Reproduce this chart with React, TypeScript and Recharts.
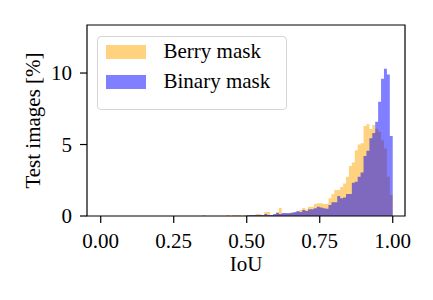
import { ComposedChart, Area, XAxis, YAxis, ReferenceArea } from "recharts";

// histogram bins: 0.01 wide, listed from 0.30 up to 0.99
const FIRST_BIN = 0.3;
const BIN_WIDTH = 0.01;

// % of test images per IoU bin
const berryMask = [
  0, 0, 0, 0, 0, 0.07, 0, 0, 0, 0,
  0, 0, 0, 0.07, 0, 0.07, 0.07, 0.07, 0, 0.07,
  0, 0.07, 0.07, 0.14, 0.14, 0.07, 0.28, 0.28, 0.07, 0.07,
  0.28, 0.56, 0.14, 0.14, 0.14, 0.28, 0.21, 0.28, 0.42, 0.56,
  0.45, 0.65, 0.65, 0.84, 0.89, 0.89, 0.84, 0.84, 1.24, 1.54,
  1.82, 1.82, 2.03, 2.28, 2.75, 3.5, 3.75, 4.6, 5.0, 5.08,
  6.3, 6.41, 6.08, 6.36, 6.1, 5.9, 5.3, 4.73, 2.75, 1.47,
];
const binaryMask = [
  0, 0, 0, 0, 0, 0, 0, 0, 0, 0,
  0, 0, 0, 0, 0, 0, 0, 0, 0, 0,
  0.07, 0.07, 0.07, 0.07, 0.07, 0.07, 0.14, 0.07, 0.07, 0.14,
  0.21, 0.14, 0.21, 0.21, 0.21, 0.21, 0.28, 0.35, 0.28, 0.42,
  0.35, 0.47, 0.47, 0.54, 0.65, 0.6, 0.54, 0.5, 0.77, 0.96,
  0.96, 1.4, 1.24, 1.3, 1.54, 1.54, 2.33, 2.4, 2.75, 3.05,
  4.2, 4.57, 5.43, 5.8, 6.6, 8.0, 9.6, 10.3, 9.9, 5.6,
];

const X_TICKS = [0, 0.25, 0.5, 0.75, 1];
const Y_TICKS = [0, 5, 10];
const X_DOMAIN = [-0.047, 1.042];
const Y_DOMAIN = [0, 13.36];

const SERIES = [
  { key: "berry", name: "Berry mask", color: "#ffa500" },
  { key: "binary", name: "Binary mask", color: "#0000ff" },
];

const FONT = "'Liberation Serif', 'Times New Roman', serif";
const FONT_SIZE = 21;

// step areas need the right edge of the last bin as an extra point
const rows = berryMask.map((b, i) => ({
  x: +(FIRST_BIN + i * BIN_WIDTH).toFixed(2),
  berry: b,
  binary: binaryMask[i],
}));
rows.push({
  x: +(FIRST_BIN + berryMask.length * BIN_WIDTH).toFixed(2),
  berry: berryMask[berryMask.length - 1],
  binary: binaryMask[binaryMask.length - 1],
});

const tickStyle = { fill: "#000", fontFamily: FONT, fontSize: FONT_SIZE };

const XLabel = ({ viewBox }: any) => (
  <text
    x={viewBox.x + viewBox.width / 2}
    y={viewBox.y + 55}
    textAnchor="middle"
    fontFamily={FONT}
    fontSize={FONT_SIZE}
    fill="#000"
  >
    IoU
  </text>
);

const YLabel = ({ viewBox }: any) => {
  const cx = 40;
  const cy = viewBox.y + viewBox.height / 2;
  return (
    <text
      x={cx}
      y={cy}
      transform={`rotate(-90 ${cx} ${cy})`}
      textAnchor="middle"
      fontFamily={FONT}
      fontSize={FONT_SIZE}
      fill="#000"
    >
      Test images [%]
    </text>
  );
};

const LegendBox = () => (
  <div
    style={{
      position: "absolute",
      left: 97,
      top: 36,
      width: 190,
      height: 74,
      boxSizing: "border-box",
      border: "1.5px solid #d5d5d5",
      borderRadius: 4,
      background: "rgba(255,255,255,0.8)",
      fontFamily: FONT,
      fontSize: FONT_SIZE,
    }}
  >
    {SERIES.map((s, i) => (
      <div
        key={s.key}
        style={{
          position: "absolute",
          left: 7.5,
          top: 7.5 + i * 30,
          height: 14,
          display: "flex",
          alignItems: "center",
          lineHeight: 1,
          whiteSpace: "nowrap",
        }}
      >
        <span
          style={{
            width: 40,
            height: 14,
            background: s.color,
            opacity: 0.5,
            marginRight: 18,
          }}
        />
        <span>{s.name}</span>
      </div>
    ))}
  </div>
);

export default function App() {
  return (
    <div style={{ position: "absolute", left: 0, top: 0, width: 433, height: 300, background: "#fff" }}>
      <ComposedChart
        width={433}
        height={300}
        data={rows}
        margin={{ top: 25, right: 28, bottom: 0, left: 0 }}
      >
        <XAxis
          dataKey="x"
          type="number"
          domain={X_DOMAIN}
          ticks={X_TICKS}
          allowDataOverflow
          height={84}
          axisLine={false}
          tickLine={{ stroke: "#000", strokeWidth: 1.2 }}
          tickSize={7}
          tickMargin={10}
          tick={tickStyle}
          tickFormatter={(v: number) => v.toFixed(2)}
          label={<XLabel />}
        />
        <YAxis
          type="number"
          domain={Y_DOMAIN}
          ticks={Y_TICKS}
          allowDataOverflow
          width={87}
          axisLine={false}
          tickLine={{ stroke: "#000", strokeWidth: 1.2 }}
          tickSize={7}
          tickMargin={8}
          tick={tickStyle}
          label={<YLabel />}
        />
        {SERIES.map((s) => (
          <Area
            key={s.key}
            dataKey={s.key}
            name={s.name}
            type="stepAfter"
            fill={s.color}
            fillOpacity={0.5}
            stroke="none"
            dot={false}
            activeDot={false}
            isAnimationActive={false}
          />
        ))}
        <ReferenceArea
          x1={X_DOMAIN[0]}
          x2={X_DOMAIN[1]}
          y1={Y_DOMAIN[0]}
          y2={Y_DOMAIN[1]}
          fill="none"
          stroke="#000"
          strokeWidth={1.2}
          fillOpacity={0}
        />
      </ComposedChart>
      <LegendBox />
    </div>
  );
}
